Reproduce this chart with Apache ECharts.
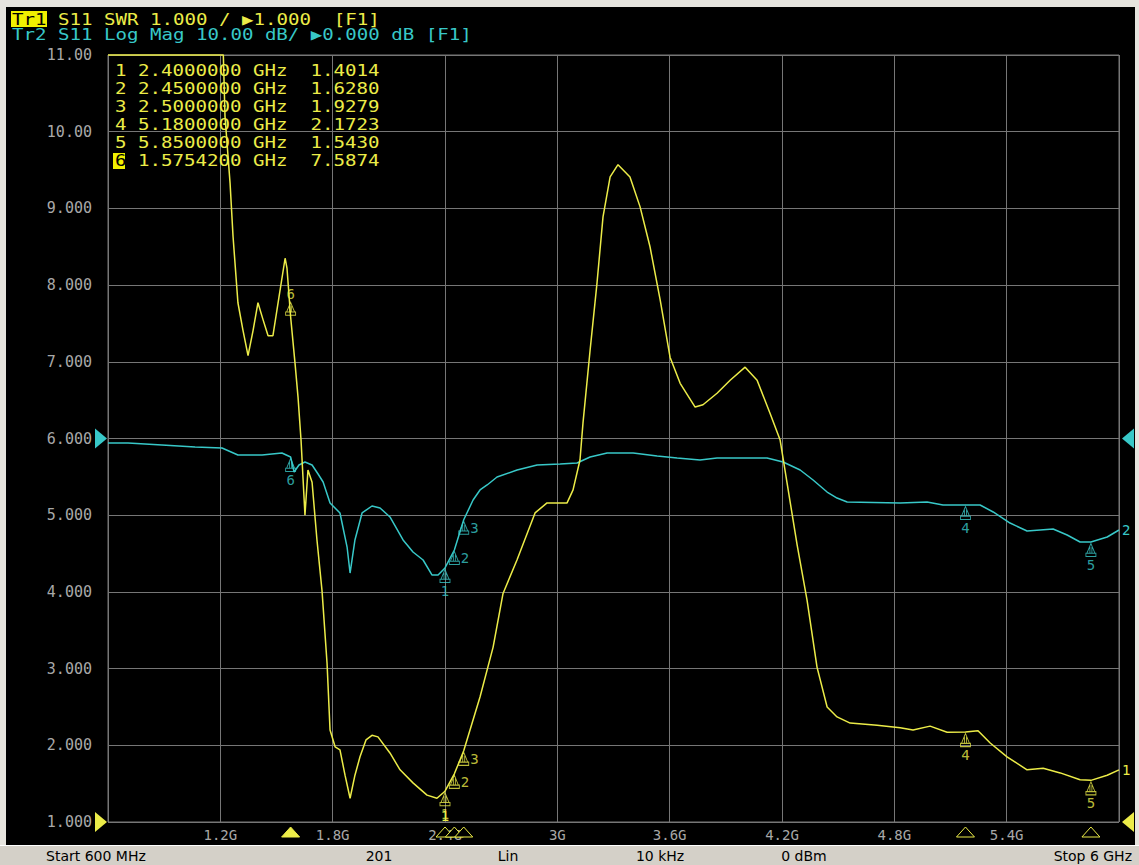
<!DOCTYPE html>
<html><head><meta charset="utf-8">
<script src="https://cdn.jsdelivr.net/npm/echarts@6.0.0/dist/echarts.min.js"></script>
<style>html,body{margin:0;padding:0;background:#000;overflow:hidden}#c{width:1139px;height:865px}</style>
</head><body><div id="c"></div>
<script>
// Trace 1: S11 SWR  [GHz, SWR]
const tr1Points = [
 [0.6,11],[0.9,11],[1.2,11],[1.216,11],[1.225,10.2],[1.252,9.33],[1.268,8.63],[1.294,7.77],[1.321,7.41],[1.348,7.08],
 [1.375,7.41],[1.401,7.77],[1.428,7.55],[1.455,7.34],[1.481,7.34],[1.513,7.84],[1.546,8.35],[1.556,8.22],[1.5754,7.5874],[1.599,6.98],
 [1.615,6.54],[1.631,5.98],[1.652,5.00],[1.668,5.59],[1.690,5.43],[1.716,4.68],[1.743,4.02],[1.770,3.07],[1.786,2.20],[1.813,1.98],
 [1.839,1.94],[1.866,1.61],[1.893,1.31],[1.919,1.61],[1.946,1.85],[1.978,2.07],[2.010,2.13],[2.042,2.11],[2.106,1.90],[2.160,1.68],
 [2.229,1.51],[2.304,1.35],[2.357,1.31],[2.4,1.4014],[2.45,1.6280],[2.5,1.9279],[2.587,2.63],[2.657,3.28],[2.710,3.98],[2.785,4.42],
 [2.881,5.03],[2.945,5.16],[3.052,5.16],[3.084,5.33],[3.121,5.72],[3.137,6.20],[3.175,7.15],[3.212,8.03],[3.244,8.89],[3.282,9.41],
 [3.324,9.57],[3.388,9.41],[3.442,9.02],[3.495,8.50],[3.549,7.81],[3.602,7.06],[3.656,6.72],[3.736,6.41],[3.778,6.44],[3.853,6.59],
 [3.923,6.76],[4.003,6.93],[4.067,6.76],[4.136,6.33],[4.190,5.98],[4.227,5.42],[4.281,4.61],[4.334,3.89],[4.387,3.02],[4.441,2.50],
 [4.494,2.37],[4.564,2.29],[4.708,2.26],[4.831,2.23],[4.900,2.20],[4.991,2.25],[5.082,2.17],[5.18,2.1723],[5.247,2.19],[5.312,2.03],
 [5.402,1.85],[5.509,1.68],[5.595,1.70],[5.686,1.64],[5.792,1.55],[5.85,1.5430],[5.937,1.61],[6.0,1.68]
];
// Trace 2: S11 Log Mag  [GHz, dB]
const tr2Points = [
 [0.6,-0.59],[0.707,-0.59],[0.888,-0.85],[1.065,-1.11],[1.209,-1.24],[1.294,-2.15],[1.423,-2.15],[1.529,-1.89],[1.5754,-2.41],[1.594,-4.37],
 [1.620,-3.46],[1.652,-3.06],[1.690,-3.46],[1.722,-4.63],[1.749,-5.67],[1.786,-8.41],[1.839,-9.71],[1.877,-14.15],[1.893,-17.54],[1.919,-13.23],
 [1.957,-9.71],[2.010,-8.80],[2.053,-9.06],[2.106,-10.23],[2.176,-13.23],[2.229,-14.80],[2.283,-15.84],[2.331,-17.80],[2.363,-17.80],[2.4,-16.88],
 [2.45,-14.54],[2.5,-10.6],[2.550,-8.02],[2.587,-6.71],[2.625,-6.06],[2.678,-5.02],[2.785,-4.11],[2.892,-3.46],[3.015,-3.32],[3.105,-3.19],
 [3.175,-2.41],[3.266,-1.89],[3.405,-1.89],[3.533,-2.28],[3.640,-2.54],[3.762,-2.80],[3.853,-2.54],[4.120,-2.54],[4.206,-3.06],[4.297,-4.11],
 [4.366,-5.41],[4.441,-6.98],[4.494,-7.76],[4.548,-8.28],[4.831,-8.41],[4.975,-8.28],[5.060,-8.67],[5.18,-8.67],[5.258,-8.67],[5.328,-9.58],
 [5.418,-11.02],[5.509,-12.06],[5.579,-11.93],[5.648,-11.80],[5.723,-12.58],[5.792,-13.49],[5.85,-13.49],[5.937,-12.84],[6.0,-11.93]
];
// Markers
const markerNames = ['1','2','3','4','5','6'];
const markerFreq  = [2.4, 2.45, 2.5, 5.18, 5.85, 1.57542];
const markerFreqText = ['2.4000000','2.4500000','2.5000000','5.1800000','5.8500000','1.5754200'];
const markerSwr   = [1.4014, 1.6280, 1.9279, 2.1723, 1.5430, 7.5874];
const markerDb    = [-16.88, -14.54, -10.6, -8.67, -13.49, -2.41];
// Axis ticks
const xTickLabels = ['', '1.2G','1.8G','2.4G','3G','3.6G','4.2G','4.8G','5.4G', ''];
const yTickLabels = ['1.000','2.000','3.000','4.000','5.000','6.000','7.000','8.000','9.000','10.00','11.00'];
// Header / status text
const header1 = 'S11 SWR 1.000 / \u25B61.000  [F1]';
const header2 = 'Tr2 S11 Log Mag 10.00 dB/ \u25B60.000 dB [F1]';
const statusItems = ['Start 600 MHz','201','Lin','10 kHz','0 dBm','Stop 6 GHz'];

const YEL = '#ecec48', CYN = '#38c8c8', GRID = '#767676', LBL = '#a8a8a8';
const MONO = '"DejaVu Sans Mono", "Liberation Mono", monospace';
const PITCH = 11.5, FS = 16, SX = PITCH / (FS * 0.602);

const glyph = 'path://M5 0 L9 9 L1 9 Z M4 3 L4 9 M6 3 L6 9 M0 9 L10 9 L10 12 L0 12 Z';
const posTr1 = ['bottom','right','right','bottom','bottom','top'];
const posTr2 = ['bottom','right','right','bottom','bottom','bottom'];

function markerData(vals, pos, upIdx){
  return markerNames.map((n,i)=>({
    name:n, value:[markerFreq[i], vals[i]],
    symbolOffset:[0, i===upIdx ? -8 : 8],
    label:{position:pos[i]}
  }));
}

const chart = echarts.init(document.getElementById('c'), null, {renderer:'svg', width:1139, height:865});

const option = {
  backgroundColor:'#000',
  animation:false,
  grid:{left:108, right:20, top:55, bottom:43, show:true, borderColor:GRID, borderWidth:1, containLabel:false, outerBoundsMode:'none'},
  xAxis:{type:'value', min:0.6, max:6, interval:0.6,
    axisLine:{show:false}, axisTick:{show:false},
    splitLine:{show:true, lineStyle:{color:GRID, width:1}},
    axisLabel:{margin:6, color:LBL, fontFamily:MONO, fontSize:14, showMinLabel:true, showMaxLabel:true,
      formatter:(v,i)=>xTickLabels[i] ?? ''}
  },
  yAxis:[
    {type:'value', min:1, max:11, interval:1,
      axisLine:{show:false}, axisTick:{show:false},
      splitLine:{show:true, lineStyle:{color:GRID, width:1}},
      axisLabel:{margin:16, fontFamily:MONO, fontSize:15,
        color:(v,i)=> (v===1 ? YEL : LBL),
        formatter:(v,i)=>yTickLabels[i] ?? ''}
    },
    {type:'value', min:-50, max:50, interval:10, show:false, splitLine:{show:false}}
  ],
  series:[
    {type:'line', name:'Tr2', yAxisIndex:1, data:tr2Points, showSymbol:false, clip:false,
      lineStyle:{color:CYN, width:1.5}, itemStyle:{color:CYN},
      endLabel:{show:true, formatter:'2', color:CYN, fontFamily:MONO, fontSize:14, distance:3}},
    {type:'line', name:'Tr1', yAxisIndex:0, data:tr1Points, showSymbol:false, clip:false,
      lineStyle:{color:YEL, width:1.5}, itemStyle:{color:YEL},
      endLabel:{show:true, formatter:'1', color:YEL, fontFamily:MONO, fontSize:14, distance:3}},
    {type:'scatter', yAxisIndex:1, data:markerData(markerDb, posTr2, -1), symbol:glyph, symbolSize:[10,13],
      itemStyle:{color:'rgba(0,0,0,0)', borderColor:CYN, borderWidth:1},
      label:{show:true, formatter:'{b}', color:CYN, fontFamily:MONO, fontSize:14, distance:1}, z:5},
    {type:'scatter', yAxisIndex:0, data:markerData(markerSwr, posTr1, 5), symbol:glyph, symbolSize:[10,13],
      itemStyle:{color:'rgba(0,0,0,0)', borderColor:YEL, borderWidth:1},
      label:{show:true, formatter:'{b}', color:YEL, fontFamily:MONO, fontSize:14, distance:1}, z:6}
  ]
};
chart.setOption(option);

// Decorations placed via the library's own scales
const xL = chart.convertToPixel({xAxisIndex:0}, 0.6);
const xR = chart.convertToPixel({xAxisIndex:0}, 6);
const yRef1 = chart.convertToPixel({yAxisIndex:0}, 1);
const yRef2 = chart.convertToPixel({yAxisIndex:1}, 0);
const yTop = chart.convertToPixel({yAxisIndex:0}, 11);

const g = [];
// frame strips
g.push({type:'rect', shape:{x:0,y:0,width:1139,height:7}, style:{fill:'#e6e4de'}, z:100});
g.push({type:'rect', shape:{x:0,y:0,width:6,height:845}, style:{fill:'#e6e4de'}, z:100});
g.push({type:'rect', shape:{x:1135,y:0,width:4,height:845}, style:{fill:'#e6e4de'}, z:100});
g.push({type:'rect', shape:{x:0,y:845,width:1139,height:20}, style:{fill:'#d4d0c8'}, z:100});
g.push({type:'line', shape:{x1:0,y1:845.5,x2:1139,y2:845.5}, style:{stroke:'#ffffff', lineWidth:1}, z:101});
const statusX = [46, 379, 508, 660, 804, 1132];
const statusAlign = ['left','center','center','center','center','right'];
statusItems.forEach((t,i)=>g.push({type:'text', x:statusX[i], y:856, z:102,
  style:{text:t, fill:'#000', font:'14px "DejaVu Sans", sans-serif', textAlign:statusAlign[i], textVerticalAlign:'middle'}}));

// header
g.push({type:'rect', shape:{x:11,y:11,width:36,height:16}, style:{fill:'#f0f000'}, z:100});
g.push({type:'text', x:12, y:19.5, scaleX:SX, z:101, style:{text:'Tr1', fill:'#000', font:FS+'px '+MONO, textVerticalAlign:'middle'}});
g.push({type:'text', x:12+4*PITCH, y:19.5, scaleX:SX, z:101, style:{text:header1, fill:YEL, font:FS+'px '+MONO, textVerticalAlign:'middle'}});
g.push({type:'text', x:12, y:35, scaleX:SX, z:101, style:{text:header2, fill:CYN, font:FS+'px '+MONO, textVerticalAlign:'middle'}});

// marker table
markerNames.forEach((n,i)=>{
  const y = yTop + 16 + i*18;
  const line = markerFreqText[i] + ' GHz  ' + markerSwr[i].toFixed(4);
  if (i===5){
    g.push({type:'rect', shape:{x:113, y:y-8, width:12, height:16}, style:{fill:'#f0f000'}, z:100});
  }
  g.push({type:'text', x:115, y:y, scaleX:SX, z:101, style:{text:n, fill:i===5?'#000':YEL, font:FS+'px '+MONO, textVerticalAlign:'middle'}});
  g.push({type:'text', x:115+2*PITCH, y:y, scaleX:SX, z:101, style:{text:line, fill:YEL, font:FS+'px '+MONO, textVerticalAlign:'middle'}});
});

// reference triangles
function triR(x,y,c){return {type:'polygon', shape:{points:[[x-12,y-10],[x,y],[x-12,y+10]]}, style:{fill:c}, z:90};}
function triL(x,y,c){return {type:'polygon', shape:{points:[[x+12,y-10],[x,y],[x+12,y+10]]}, style:{fill:c}, z:90};}
g.push(triR(xL-1, yRef2, CYN));
g.push(triR(xL-1, yRef1, YEL));
g.push(triL(xR+3, yRef2, CYN));
g.push(triL(xR+3, yRef1, YEL));

// stimulus marker triangles below the grid
markerFreq.forEach((f,i)=>{
  const px = chart.convertToPixel({xAxisIndex:0}, f);
  const active = i===5;
  g.push({type:'polygon', shape:{points:[[px-9,yRef1+15],[px,yRef1+5],[px+9,yRef1+15]]},
    style:{fill:active?YEL:'#000', stroke:YEL, lineWidth:1}, z:95});
});
const px1 = chart.convertToPixel({xAxisIndex:0}, markerFreq[0]);
g.push({type:'text', x:px1, y:yRef1-6, z:96, style:{text:'1', fill:YEL, font:'14px '+MONO, textAlign:'center', textVerticalAlign:'middle'}});

chart.setOption({graphic:{elements:g}});
</script></body></html>
